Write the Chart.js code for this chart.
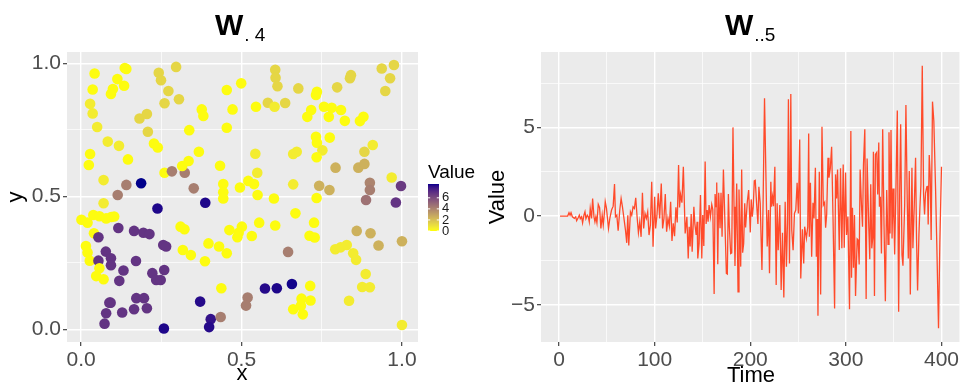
<!DOCTYPE html>
<html>
<head>
<meta charset="utf-8">
<script src="https://cdn.jsdelivr.net/npm/chart.js@4.4.1/dist/chart.umd.min.js"></script>
<style>
  body { margin: 0; background: #fff; }
  #wrap { position: relative; width: 961px; height: 383px; overflow: hidden; }
  canvas { position: absolute; top: 0; }
</style>
</head>
<body>
<div id="wrap">
  <canvas id="left" width="480" height="383" style="left:0"></canvas>
  <canvas id="right" width="481" height="383" style="left:480px"></canvas>
</div>
<script>
// ---- left panel : spatial field W.4 ----
const pointX = [0.042,0.036,0.028,0.036,0.050,0.093,0.099,0.113,0.134,0.136,0.141,0.083,0.118,0.028,0.024,0.146,0.070,0.070,
  0.242,0.249,0.296,0.272,0.260,0.305,0.182,0.205,0.208,0.227,0.239,0.260,0.283,0.323,0.351,0.315,0.335,0.337,0.367,0.376,0.381,
  0.454,0.454,0.472,0.499,0.545,0.543,0.549,0.582,0.605,0.606,0.612,0.603,0.636,0.677,0.705,0.717,0.732,0.735,0.757,0.781,0.772,
  0.798,0.810,0.822,0.838,0.841,0.869,0.880,0.937,0.975,0.963,0.948,0.732,0.735,0.775,0.752,0.734,0.661,0.672,0.883,0.909,
  0.433,0.443,0.443,0.443,0.495,0.521,0.539,0.550,0.601,0.661,0.742,0.774,0.793,0.864,0.883,0.900,0.900,0.888,0.968,0.997,0.981,
  0.734,0.187,0.114,0.141,0.387,0.238,0.001,0.020,0.038,0.057,0.078,0.094,0.103,0.040,0.054,0.116,0.165,0.194,0.213,
  0.015,0.020,0.027,0.054,0.077,0.093,0.093,0.057,0.047,0.070,0.132,0.119,0.171,0.222,0.234,0.248,0.259,0.256,0.265,
  0.310,0.322,0.317,0.342,0.397,0.386,0.430,0.454,0.462,0.487,0.491,0.501,0.532,0.555,0.605,0.668,0.726,0.712,0.728,
  0.437,0.645,0.573,0.610,0.657,0.371,0.404,0.399,0.258,0.435,0.519,0.514,0.714,0.687,0.715,0.661,0.685,0.691,
  0.792,0.809,0.828,0.848,0.857,0.859,0.902,0.927,1.000,0.887,0.876,0.900,0.835,1.000,
  0.172,0.196,0.205,0.165,0.088,0.092,0.128,0.078,0.073];
const pointY = [0.962,0.902,0.848,0.812,0.761,0.885,0.904,0.941,0.916,0.983,0.979,0.706,0.690,0.659,0.618,0.639,0.561,0.474,
  0.965,0.937,0.987,0.896,0.850,0.865,0.793,0.810,0.743,0.699,0.684,0.589,0.594,0.589,0.530,0.614,0.633,0.749,0.668,0.827,0.802,
  0.900,0.758,0.827,0.925,0.837,0.660,0.589,0.852,0.976,0.946,0.914,0.837,0.851,0.906,0.799,0.825,0.881,0.893,0.837,0.833,0.799,
  0.910,0.825,0.784,0.944,0.956,0.783,0.799,0.981,0.994,0.944,0.896,0.724,0.702,0.721,0.673,0.647,0.659,0.668,0.668,0.693,
  0.615,0.546,0.515,0.492,0.533,0.558,0.546,0.505,0.492,0.545,0.540,0.524,0.608,0.608,0.622,0.551,0.524,0.486,0.571,0.539,0.477,
  0.494,0.549,0.505,0.543,0.476,0.454,0.412,0.401,0.430,0.425,0.417,0.422,0.424,0.361,0.346,0.381,0.370,0.363,0.358,
  0.313,0.289,0.258,0.258,0.292,0.267,0.241,0.229,0.200,0.188,0.221,0.182,0.257,0.211,0.185,0.185,0.223,0.317,0.311,
  0.386,0.376,0.298,0.279,0.323,0.256,0.311,0.286,0.373,0.346,0.363,0.386,0.351,0.401,0.390,0.436,0.401,0.352,0.345,
  0.154,0.291,0.153,0.154,0.170,0.104,0.038,0.008,0.003,0.046,0.119,0.089,0.163,0.115,0.108,0.075,0.088,0.056,
  0.301,0.308,0.317,0.286,0.261,0.370,0.361,0.315,0.331,0.208,0.159,0.158,0.107,0.016,
  0.117,0.117,0.079,0.075,0.100,0.100,0.063,0.060,0.021];
const pointValue = [0.1,0.1,0.6,0.6,0.6,0.1,0.1,0.1,0.1,0.1,0.1,0.6,0.6,0.1,0.1,0.1,0.6,0.6,
  1.3,1.3,1.3,1.3,1.3,1.3,1.3,1.3,1.3,0.1,0.1,0.1,4.2,4.2,4.2,0.1,0.1,0.1,0.1,0.1,0.1,
  0.1,0.1,0.1,0.1,0.1,0.6,0.6,1.3,1.3,1.3,1.3,0.6,1.3,1.3,0.1,0.1,0.1,0.1,0.1,0.1,0.1,
  1.3,0.1,0.1,1.3,1.3,0.1,0.1,1.3,1.3,1.3,1.3,0.1,0.1,0.1,0.6,0.1,0.6,0.6,1.3,0.6,
  0.1,0.1,0.1,0.1,0.1,0.1,0.1,0.1,0.1,0.6,2.5,2.5,2.5,2.5,2.5,4.0,4.2,4.6,0.6,6.6,6.8,
  0.1,8.5,4.2,4.2,8.3,8.3,0.1,0.1,0.1,0.1,0.1,0.1,0.1,0.1,6.8,6.8,6.8,6.8,6.8,
  0.1,0.1,0.1,6.8,6.8,6.8,6.8,0.1,0.1,0.1,6.8,6.8,6.8,6.8,6.8,6.8,6.8,6.8,6.8,
  0.1,0.1,0.1,0.1,0.1,0.1,0.1,0.1,0.1,0.1,0.1,0.1,0.1,0.1,0.1,0.1,0.1,0.1,0.1,
  0.1,4.2,8.2,8.3,8.4,8.2,8.0,8.2,8.3,4.2,4.2,4.2,0.1,0.1,0.1,0.1,0.1,0.1,
  0.6,0.6,0.6,0.6,0.6,2.5,2.5,2.5,2.5,0.6,0.6,0.6,0.6,0.6,
  6.8,6.8,6.8,6.8,6.8,6.8,6.8,6.8,6.8];
const valueLimits = [0, 8.5];
const legendTicks = [0, 2, 4, 6];

// ---- right panel : time series W..5 ----
const timeSteps = [1,9,10.4,11.5,12.5,13.9,16.0,17.4,18.4,20.1,21.2,22.2,23.6,24.6,26.0,27.1,28.1,29.5,30.6,31.6,32.6,34.0,35.1,
  36.5,37.5,38.5,39.6,41.0,42.4,43.75,45.1,46.2,47.2,48.3,49.6,51.7,53.1,54.9,56.6,58.0,59.0,60.4,61.8,63.5,64.9,66.3,68.1,
  69.4,70.8,71.9,72.9,74.65,76.0,77.4,78.8,80.2,81.6,83.0,84.4,85.8,87.2,88.5,89.9,91.3,92.7,94.1,95.5,96.9,98.3,100.0,101.0,
  102.4,103.8,105.2,106.9,108.3,109.7,111.1,112.5,113.9,115.3,116.7,118.1,119.4,120.8,122.2,123.6,125.0,126.0,127.1,128.5,130.0,
  131.9,133.7,135.1,136.1,137.1,138.2,139.2,141.0,142.0,143.4,144.4,145.1,146.5,147.9,149.3,150.3,151.4,152.8,153.8,154.9,
  155.9,156.9,158.3,159.7,160.8,162.2,163.2,164.2,164.9,166.0,167.0,168.4,169.4,170.5,171.9,173.6,175.0,176.0,177.1,178.1,
  179.5,180.6,181.9,183.0,184.0,185.8,187.2,188.2,190.0,191.0,192.0,193.1,194.2,195.1,196.9,198.3,200.0,201.0,202.1,203.1,
  204.2,205.2,206.6,208.0,209.0,210.4,212.2,213.5,214.9,216.7,217.7,219.1,220.1,221.5,222.2,223.3,224.3,225.7,227.1,228.1,
  229.2,230.9,232.3,233.7,235.1,236.5,237.8,238.9,239.9,241.0,242.4,243.4,244.8,246.2,247.6,249.0,250.3,251.7,252.8,254.5,
  255.9,256.9,258.7,260.1,261.1,261.8,262.9,264.2,265.6,266.7,268.1,269.1,270.1,270.8,272.2,273.6,275.0,276.4,277.8,278.8,
  279.9,281.3,282.3,283.7,285.1,286.5,288.2,289.2,290.3,291.3,293.1,294.4,295.8,297.2,298.3,299.7,300.7,302.1,303.8,305.2,
  305.9,306.9,308.0,309.0,310.1,311.8,312.8,313.9,314.9,316.3,317.4,318.4,319.8,321.2,322.2,324.0,325.0,326.0,327.1,328.1,
  328.8,329.9,330.9,332.3,333.3,334.4,335.1,336.1,337.2,338.5,339.9,341.3,342.7,344.1,345.1,346.2,347.2,348.3,349.3,350.3,
  351.0,352.4,353.8,355.2,356.3,357.3,358.7,359.7,361.5,362.8,364.2,365.3,366.3,367.4,369.1,370.1,371.5,372.9,373.9,375.0,
  376.4,377.4,378.5,379.9,381.3,382.3,383.3,384.7,385.4,386.1,387.2,388.2,389.2,390.6,392.0,393.8,395.1,396.9,398.3,400.0];
const seriesValues = [0,0,0.19,0.05,0.19,-0.04,-0.13,-0.04,-0.26,-0.08,0.05,-0.15,-0.04,-0.38,0.05,0.24,-0.15,0.05,-0.04,-0.32,0.43,-0.13,0.99,
  -0.04,-0.32,-0.04,-0.38,0.66,0.47,-0.70,0.05,-0.51,0.05,0.81,0.43,-0.70,-0.13,0.34,0.56,1.80,-0.04,0.05,-0.83,0.34,0.99,0.52,-0.23,
  -0.76,-1.51,0.05,-1.66,0.24,0.05,0.52,0.43,1.03,-0.04,-0.94,-0.32,-1.17,1.31,-0.70,0.15,-0.13,0.24,-1.07,-0.51,1.93,-1.73,1.09,-0.70,
  0.05,1.28,-0.13,1.84,-0.70,-0.13,1.24,-0.88,-0.13,-0.56,0.81,-1.40,-0.41,-1.13,0.49,-0.36,2.88,0.49,1.22,0.75,2.78,
  -0.98,-0.04,-2.39,-0.60,-1.72,0.11,-2.01,0.53,-0.41,-1.07,-0.32,-2.39,-1.54,1.18,-2.39,0.06,-1.69,3.07,-0.45,0.34,
  -0.32,0.62,-0.04,0.66,0.37,-4.40,1.24,0.53,1.89,-2.72,1.31,-0.69,1.31,-1.16,2.63,-0.60,-3.23,-3.27,1.24,-0.60,
  -2.11,-2.07,5.00,0.53,-2.82,1.84,-4.27,1.50,-2.85,2.63,-2.07,-1.54,0.72,-0.64,0.81,1.47,-0.92,0.94,-0.04,0.53,
  1.99,2.02,0.72,-0.45,1.65,0.72,-3.04,1.09,6.64,1.28,-1.72,0.34,-3.23,1.93,0.53,1.09,0.56,2.78,-3.89,0.72,
  -1.92,0.62,-4.17,-0.94,-4.59,0.81,-2.85,-0.41,6.58,-2.67,6.88,-0.79,-1.92,0.15,0.34,1.88,0.15,4.32,-3.52,-0.75,
  -2.67,-0.60,-1.25,-0.60,4.66,-1.16,1.88,-2.29,0.75,-0.13,2.72,-2.29,-0.17,-5.62,2.50,-4.42,5.04,0.62,0.77,-0.66,
  0.06,3.29,2.16,2.69,3.91,0.06,-5.21,2.35,0.99,2.63,-1.91,2.69,-1.82,2.91,-1.78,2.46,-1.07,-0.03,-5.25,4.79,
  -3.48,0.47,-2.91,0.06,-4.50,-1.29,-1.35,-2.73,2.63,0.62,-0.60,2.88,4.90,-4.68,3.25,-0.70,-2.44,1.79,-1.82,-1.22,
  3.63,-4.50,3.48,3.59,1.22,4.15,0.53,1.09,-2.11,4.90,-0.51,-4.80,1.47,-1.59,4.72,-0.98,4.85,-1.26,1.56,-0.42,
  -2.16,1.67,5.95,-5.40,1.41,5.17,-2.20,-2.80,0.62,6.26,0.81,-2.39,2.54,-4.42,2.72,-1.82,0.53,3.29,-1.26,-4.20,
  -1.07,0.43,1.75,8.48,1.20,0.09,1.28,1.65,1.67,-0.47,3.44,2.31,-1.35,6.45,5.36,1.56,-1.59,-6.33,-1.44,2.78];

const FONT = '"Liberation Sans", Arial, sans-serif';
Chart.defaults.font.family = FONT;

// yellow -> darkblue gradient, interpolated in CIELAB like ggplot2
function toLab(hex) {
  const c = [1, 3, 5].map(i => parseInt(hex.substr(i, 2), 16) / 255)
    .map(v => v <= 0.04045 ? v / 12.92 : Math.pow((v + 0.055) / 1.055, 2.4));
  const X = (0.4124 * c[0] + 0.3576 * c[1] + 0.1805 * c[2]) / 0.95047;
  const Y = 0.2126 * c[0] + 0.7152 * c[1] + 0.0722 * c[2];
  const Z = (0.0193 * c[0] + 0.1192 * c[1] + 0.9505 * c[2]) / 1.08883;
  const f = t => t > 0.008856 ? Math.cbrt(t) : 7.787 * t + 16 / 116;
  return [116 * f(Y) - 16, 500 * (f(X) - f(Y)), 200 * (f(Y) - f(Z))];
}
function fromLab(L, a, b) {
  const fy = (L + 16) / 116, fx = fy + a / 500, fz = fy - b / 200;
  const g = t => t > 0.2069 ? t * t * t : (t - 16 / 116) / 7.787;
  const X = g(fx) * 0.95047, Y = g(fy), Z = g(fz) * 1.08883;
  const lin = [3.2406 * X - 1.5372 * Y - 0.4986 * Z, -0.9689 * X + 1.8758 * Y + 0.0415 * Z, 0.0557 * X - 0.2040 * Y + 1.0570 * Z];
  const s = lin.map(v => v <= 0.0031308 ? 12.92 * v : 1.055 * Math.pow(v, 1 / 2.4) - 0.055)
    .map(v => Math.round(Math.min(1, Math.max(0, v)) * 255));
  return 'rgb(' + s.join(',') + ')';
}
const lowLab = toLab('#FFFF00'), highLab = toLab('#00008B');
function valueColor(v) {
  const t = Math.min(1, Math.max(0, (v - valueLimits[0]) / (valueLimits[1] - valueLimits[0])));
  return fromLab(...lowLab.map((l, i) => l + (highLab[i] - l) * t));
}

function gridScale(min, max, major, minor, fmt, pos, size) {
  return {
    type: 'linear', position: pos, min: min, max: max,
    afterBuildTicks: s => {
      s.ticks = major.map(v => ({ value: v, major: true }))
        .concat(minor.map(v => ({ value: v, major: false })))
        .sort((a, b) => a.value - b.value);
    },
    afterFit: s => { if (pos === 'left') s.width = size; else s.height = size; },
    border: { display: false },
    grid: {
      color: '#ffffff',
      lineWidth: c => (c.tick && c.tick.major) ? 1.4 : 0.7,
      tickColor: c => (c.tick && c.tick.major) ? '#333333' : 'rgba(0,0,0,0)',
      tickWidth: 1.1, tickLength: 4, drawTicks: true
    },
    ticks: {
      autoSkip: false, maxRotation: 0, padding: 2,
      color: '#4d4d4d', font: { size: 21 },
      callback: (v, i, ticks) => ticks[i].major ? fmt(v) : ''
    }
  };
}

const panelBg = {
  id: 'panelBg',
  beforeDraw(chart) {
    const a = chart.chartArea, ctx = chart.ctx;
    ctx.save();
    ctx.fillStyle = '#ebebeb';
    ctx.fillRect(a.left, a.top, a.right - a.left, a.bottom - a.top);
    ctx.restore();
  }
};

function textPlugin(o) {
  return {
    id: 'texts',
    afterDraw(chart) {
      const ctx = chart.ctx;
      ctx.save();
      ctx.fillStyle = '#000';
      ctx.textBaseline = 'alphabetic';
      ctx.textAlign = 'left';
      ctx.font = 'bold 30px ' + FONT;
      ctx.fillText('W', o.wx, 35);
      const ww = ctx.measureText('W').width;
      ctx.font = '19px ' + FONT;
      ctx.fillText(o.sub, o.wx + ww + 1, 41);
      ctx.font = '22px ' + FONT;
      ctx.textAlign = 'center';
      ctx.fillText(o.xTitle, o.xTitleX, o.xTitleY);
      ctx.translate(o.yTitleX, 197);
      ctx.rotate(-Math.PI / 2);
      ctx.fillText(o.yTitle, 0, 0);
      ctx.restore();
    }
  };
}

const colorLegend = {
  id: 'colorLegend',
  afterDraw(chart) {
    const ctx = chart.ctx;
    const bx = 428, bw = 11, top = 184, bottom = 231;
    ctx.save();
    for (let py = top; py < bottom; py++) {
      const v = valueLimits[0] + (bottom - py - 0.5) / (bottom - top) * (valueLimits[1] - valueLimits[0]);
      ctx.fillStyle = valueColor(v);
      ctx.fillRect(bx, py, bw, 1);
    }
    ctx.strokeStyle = '#ffffff';
    ctx.lineWidth = 1;
    ctx.fillStyle = '#1a1a1a';
    ctx.font = '13px ' + FONT;
    ctx.textBaseline = 'middle';
    ctx.textAlign = 'left';
    legendTicks.forEach(t => {
      const y = bottom - (t - valueLimits[0]) / (valueLimits[1] - valueLimits[0]) * (bottom - top);
      ctx.beginPath();
      ctx.moveTo(bx, y); ctx.lineTo(bx + 2.2, y);
      ctx.moveTo(bx + bw - 2.2, y); ctx.lineTo(bx + bw, y);
      ctx.stroke();
      ctx.fillText(String(t), bx + bw + 3, y);
    });
    ctx.fillStyle = '#000';
    ctx.font = '19px ' + FONT;
    ctx.textBaseline = 'alphabetic';
    ctx.fillText('Value', bx, 178);
    ctx.restore();
  }
};

new Chart(document.getElementById('left'), {
  type: 'scatter',
  data: {
    datasets: [{
      data: pointX.map((x, i) => ({ x: x, y: pointY[i] })),
      pointRadius: 5.3,
      pointBorderWidth: 0,
      pointBackgroundColor: pointValue.map(valueColor)
    }]
  },
  options: {
    responsive: false, animation: false, devicePixelRatio: 1,
    layout: { padding: { top: 52, right: 62, left: 0, bottom: 0 } },
    plugins: { legend: { display: false }, tooltip: { enabled: false } },
    scales: {
      x: gridScale(-0.044, 1.05, [0, 0.5, 1], [0.25, 0.75], v => v.toFixed(1), 'bottom', 41),
      y: gridScale(-0.048, 1.043, [0, 0.5, 1], [0.25, 0.75], v => v.toFixed(1), 'left', 67)
    }
  },
  plugins: [panelBg, colorLegend, textPlugin({ wx: 215, sub: '. 4', xTitle: 'x', xTitleX: 242, xTitleY: 380, yTitle: 'y', yTitleX: 22 })]
});

new Chart(document.getElementById('right'), {
  type: 'line',
  data: {
    datasets: [{
      data: timeSteps.map((t, i) => ({ x: t, y: seriesValues[i] })),
      borderColor: '#ff4a2a',
      borderWidth: 1.3,
      pointRadius: 0,
      tension: 0,
      fill: false
    }]
  },
  options: {
    responsive: false, animation: false, devicePixelRatio: 1,
    layout: { padding: { top: 52, right: 0, left: 0, bottom: 0 } },
    plugins: { legend: { display: false }, tooltip: { enabled: false } },
    scales: {
      x: gridScale(-18.9, 418.8, [0, 100, 200, 300, 400], [50, 150, 250, 350], v => String(v), 'bottom', 41),
      y: gridScale(-7.1, 9.25, [-5, 0, 5], [-2.5, 2.5, 7.5], v => String(v).replace('-', '\u2212'), 'left', 61)
    }
  },
  plugins: [panelBg, textPlugin({ wx: 245, sub: '..5', xTitle: 'Time', xTitleX: 271, xTitleY: 382, yTitle: 'Value', yTitleX: 24 })]
});
</script>
</body>
</html>
